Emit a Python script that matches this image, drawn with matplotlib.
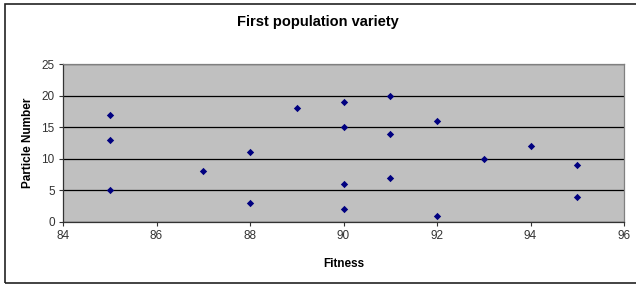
import matplotlib
matplotlib.use("Agg")
import matplotlib.pyplot as plt
from matplotlib.patches import Rectangle

fitness = [85, 85, 85, 87, 88, 88, 89, 90, 90, 90, 90, 91, 91, 91, 92, 92, 93, 94, 95, 95]
particles = [17, 13, 5, 8, 11, 3, 18, 19, 15, 6, 2, 20, 14, 7, 16, 1, 10, 12, 9, 4]
x_ticks = [84, 86, 88, 90, 92, 94, 96]
y_ticks = [0, 5, 10, 15, 20, 25]

plt.rcParams['font.family'] = ['Liberation Sans', 'DejaVu Sans']

fig = plt.figure(figsize=(6.36, 2.86), dpi=100)
fig.patch.set_facecolor('white')
ax = fig.add_axes([63/636, 1-222/286, (624-63)/636, (222-64)/286])
ax.set_facecolor('#c0c0c0')

ax.scatter(fitness, particles, marker='D', s=14, color='#000080', zorder=3, linewidths=0)

ax.set_xlim(84, 96)
ax.set_ylim(0, 25)
ax.set_xticks(x_ticks)
ax.set_yticks(y_ticks)
ax.yaxis.grid(True, color='black', linewidth=0.9)
ax.set_axisbelow(True)

for s in ['top', 'right']:
    ax.spines[s].set_color('#808080')
    ax.spines[s].set_linewidth(0.9)
for s in ['left', 'bottom']:
    ax.spines[s].set_color('#333333')
    ax.spines[s].set_linewidth(0.9)

ax.tick_params(axis='both', direction='out', length=3, width=0.8, color='#333333',
               labelsize=8.5, labelcolor='#333333', pad=3)

ax.set_xlabel('Fitness', fontsize=8.5, fontweight='bold', labelpad=11)
ax.set_ylabel('Particle Number', fontsize=8.5, fontweight='bold', labelpad=5)
fig.text(0.5, 1-22/286, 'First population variety', ha='center', va='center',
         fontsize=10.5, fontweight='bold')

fig.patches.append(Rectangle((5/636, 3/286), 640/636, 279/286, transform=fig.transFigure,
                             fill=False, edgecolor='#222222', linewidth=1.2))

fig.savefig('out.png', dpi=100)
